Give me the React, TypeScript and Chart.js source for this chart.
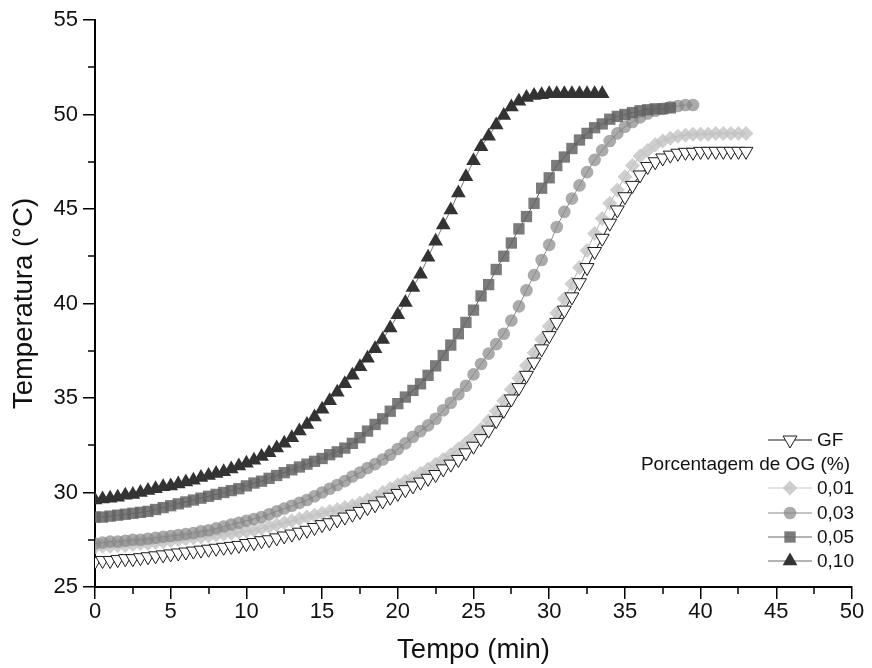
import React, { useEffect, useRef } from 'react';
import { Chart, registerables } from 'chart.js';

Chart.register(...registerables);

// ---------- DATA ----------
const tempo = [
  0, 0.5, 1, 1.5, 2, 2.5, 3, 3.5, 4, 4.5,
  5, 5.5, 6, 6.5, 7, 7.5, 8, 8.5, 9, 9.5,
  10, 10.5, 11, 11.5, 12, 12.5, 13, 13.5, 14, 14.5,
  15, 15.5, 16, 16.5, 17, 17.5, 18, 18.5, 19, 19.5,
  20, 20.5, 21, 21.5, 22, 22.5, 23, 23.5, 24, 24.5,
  25, 25.5, 26, 26.5, 27, 27.5, 28, 28.5, 29, 29.5,
  30, 30.5, 31, 31.5, 32, 32.5, 33, 33.5, 34, 34.5,
  35, 35.5, 36, 36.5, 37, 37.5, 38, 38.5, 39, 39.5,
  40, 40.5, 41, 41.5, 42, 42.5, 43,
];

const gf = [
  26.35, 26.4, 26.4, 26.45, 26.5, 26.5, 26.55, 26.6, 26.65, 26.7,
  26.75, 26.8, 26.85, 26.9, 26.95, 27.0, 27.05, 27.1, 27.15, 27.2,
  27.3, 27.35, 27.45, 27.5, 27.6, 27.7, 27.8, 27.9, 28.0, 28.15,
  28.3, 28.4, 28.55, 28.7, 28.85, 29.0, 29.2, 29.35, 29.55, 29.75,
  29.95, 30.15, 30.35, 30.55, 30.75, 30.95, 31.25, 31.5, 31.75, 32.1,
  32.45, 32.85, 33.3, 33.8, 34.35, 34.95, 35.55, 36.2, 36.9, 37.6,
  38.3, 39.0, 39.65, 40.35, 41.1, 41.9, 42.75, 43.45, 44.25, 44.95,
  45.65, 46.25, 46.8, 47.25, 47.5, 47.7, 47.85, 47.95, 48.0, 48.0,
  48.05, 48.05, 48.05, 48.05, 48.05, 48.05, 48.05,
];

const og001 = [
  27.1, 27.15, 27.15, 27.2, 27.2, 27.25, 27.3, 27.3, 27.35, 27.4,
  27.45, 27.5, 27.55, 27.6, 27.65, 27.7, 27.75, 27.8, 27.85, 27.9,
  27.95, 28.0, 28.1, 28.2, 28.3, 28.4, 28.5, 28.6, 28.7, 28.8,
  28.9, 29.0, 29.1, 29.2, 29.3, 29.45, 29.6, 29.8, 30.0, 30.2,
  30.4, 30.6, 30.8, 31.0, 31.25, 31.5, 31.75, 32.0, 32.3, 32.6,
  32.95, 33.35, 33.8, 34.3, 34.85, 35.45, 36.05, 36.7, 37.4, 38.1,
  38.8, 39.5, 40.25, 41.05, 41.9, 42.8, 43.7, 44.5, 45.3, 46.0,
  46.7, 47.3, 47.8, 48.1, 48.4, 48.6, 48.75, 48.85, 48.9, 48.95,
  48.95, 48.95, 49.0, 49.0, 49.0, 49.0, 49.0,
];

const og003 = [
  27.3, 27.35, 27.4, 27.4, 27.45, 27.5, 27.5, 27.55, 27.6, 27.65,
  27.7, 27.75, 27.8, 27.85, 27.95, 28.0, 28.1, 28.2, 28.3, 28.4,
  28.5, 28.6, 28.7, 28.85, 29.0, 29.15, 29.3, 29.45, 29.6, 29.8,
  30.0, 30.2, 30.4, 30.6, 30.85, 31.05, 31.3, 31.5, 31.75, 32.0,
  32.3, 32.6, 32.95, 33.25, 33.55, 33.9, 34.35, 34.75, 35.2, 35.65,
  36.25, 36.8, 37.35, 37.85, 38.4, 39.1, 39.85, 40.7, 41.5, 42.3,
  43.1, 44.05, 44.85, 45.55, 46.25, 46.95, 47.6, 48.1, 48.6, 49.0,
  49.35, 49.6, 49.85, 50.05, 50.2, 50.3, 50.4, 50.45, 50.5, 50.5,
];

const og005 = [
  28.7, 28.7, 28.75, 28.8, 28.85, 28.9, 28.95, 29.0, 29.1, 29.2,
  29.3, 29.4, 29.5, 29.6, 29.7, 29.8, 29.9, 30.0, 30.1, 30.2,
  30.35, 30.5, 30.6, 30.75, 30.9, 31.05, 31.2, 31.35, 31.5, 31.65,
  31.8, 32.0, 32.15, 32.35, 32.6, 32.9, 33.25, 33.6, 33.9, 34.3,
  34.7, 35.05, 35.4, 35.75, 36.2, 36.7, 37.25, 37.8, 38.4, 39.0,
  39.65, 40.4, 41.0, 41.8, 42.5, 43.2, 43.95, 44.6, 45.3, 46.1,
  46.65, 47.3, 47.75, 48.2, 48.65, 49.0, 49.3, 49.5, 49.75, 49.9,
  50.0, 50.1, 50.2, 50.25, 50.3, 50.3, 50.35,
];

const og010 = [
  29.6, 29.65, 29.7, 29.75, 29.85, 29.9, 30.0, 30.1, 30.2, 30.3,
  30.35, 30.45, 30.55, 30.65, 30.8, 30.9, 31.0, 31.1, 31.25, 31.4,
  31.55, 31.7, 31.9, 32.1, 32.35, 32.6, 32.9, 33.25, 33.6, 34.0,
  34.4, 34.85, 35.3, 35.75, 36.2, 36.65, 37.1, 37.6, 38.1, 38.7,
  39.4, 40.05, 40.85, 41.55, 42.45, 43.3, 44.15, 44.95, 45.85, 46.7,
  47.55, 48.3, 48.85, 49.45, 49.95, 50.4, 50.7, 50.9, 51.0, 51.05,
  51.1, 51.1, 51.1, 51.1, 51.1, 51.1, 51.1, 51.1,
];

const seriesLabels = ['GF', '0,01', '0,03', '0,05', '0,10'];
const legendTitle = 'Porcentagem de OG (%)';
const xTitle = 'Tempo (min)';
const yTitle = 'Temperatura (°C)';
const xRange = [0, 50];
const yRange = [25, 55];
const majorStep = 5;

// ---------- STYLES ----------
type Sty = { shape: string; rot: number; r: number; fill: string; stroke: string; bw: number; line: string; legLine: string };
const styles: Record<string, Sty> = {
  'GF': { shape: 'triangle', rot: 180, r: 8, fill: '#ffffff', stroke: '#1a1a1a', bw: 1, line: '#1a1a1a', legLine: '#1a1a1a' },
  '0,01': { shape: 'rectRot', rot: 0, r: 7.5, fill: 'rgba(195,195,195,0.8)', stroke: 'rgba(195,195,195,0)', bw: 0, line: '#b0b0b0', legLine: '#c8c8c8' },
  '0,03': { shape: 'circle', rot: 0, r: 6.3, fill: 'rgba(135,135,135,0.7)', stroke: 'rgba(135,135,135,0)', bw: 0, line: '#8a8a8a', legLine: '#8a8a8a' },
  '0,05': { shape: 'rect', rot: 0, r: 8, fill: 'rgba(100,100,100,0.85)', stroke: 'rgba(100,100,100,0)', bw: 0, line: '#5a5a5a', legLine: '#6a6a6a' },
  '0,10': { shape: 'triangle', rot: 0, r: 8.5, fill: '#333333', stroke: '#333333', bw: 0, line: '#777777', legLine: '#6a6a6a' },
};

const FONT = "'Liberation Sans', Arial, Helvetica, sans-serif";

function pts(vals: number[]) {
  return vals.map((y, i) => ({ x: tempo[i], y }));
}

function drawMarker(ctx: CanvasRenderingContext2D, s: Sty, x: number, y: number) {
  const r = s.r;
  ctx.save();
  ctx.beginPath();
  if (s.shape === 'circle') {
    ctx.arc(x, y, r, 0, Math.PI * 2);
  } else if (s.shape === 'rect') {
    const h = r * Math.SQRT1_2;
    ctx.rect(x - h, y - h, 2 * h, 2 * h);
  } else if (s.shape === 'rectRot') {
    ctx.moveTo(x - r, y);
    ctx.lineTo(x, y - r);
    ctx.lineTo(x + r, y);
    ctx.lineTo(x, y + r);
    ctx.closePath();
  } else {
    let a = (s.rot * Math.PI) / 180;
    for (let k = 0; k < 3; k++) {
      const px = x + Math.sin(a) * r;
      const py = y - Math.cos(a) * r;
      if (k === 0) ctx.moveTo(px, py); else ctx.lineTo(px, py);
      a += (2 * Math.PI) / 3;
    }
    ctx.closePath();
  }
  ctx.fillStyle = s.fill;
  ctx.fill();
  if (s.bw > 0) {
    ctx.lineWidth = s.bw;
    ctx.strokeStyle = s.stroke;
    ctx.stroke();
  }
  ctx.restore();
}

const legendPlugin = {
  id: 'customLegend',
  afterDraw(chart: any) {
    const ctx: CanvasRenderingContext2D = chart.ctx;
    const ca = chart.chartArea;
    const right = ca.right;
    const bottom = ca.bottom;
    const rows: { label: string; y: number }[] = [
      { label: seriesLabels[0], y: bottom - 147 },
      { label: seriesLabels[1], y: bottom - 99 },
      { label: seriesLabels[2], y: bottom - 74 },
      { label: seriesLabels[3], y: bottom - 50 },
      { label: seriesLabels[4], y: bottom - 26 },
    ];
    ctx.save();
    ctx.font = `19px ${FONT}`;
    ctx.textBaseline = 'middle';
    ctx.fillStyle = '#111';
    rows.forEach((row) => {
      const s = styles[row.label];
      ctx.beginPath();
      ctx.strokeStyle = s.legLine;
      ctx.lineWidth = 1;
      ctx.moveTo(right - 84, row.y);
      ctx.lineTo(right - 40, row.y);
      ctx.stroke();
      drawMarker(ctx, s, right - 62, row.y);
      ctx.fillStyle = '#111';
      ctx.textAlign = 'left';
      ctx.fillText(row.label, right - 35, row.y + 1);
    });
    ctx.textAlign = 'right';
    ctx.fillText(legendTitle, right - 2, bottom - 122);
    ctx.restore();
  },
};

const minorTicksPlugin = {
  id: 'minorTicks',
  afterDraw(chart: any) {
    const ctx: CanvasRenderingContext2D = chart.ctx;
    const xs = chart.scales.x;
    const ys = chart.scales.y;
    const ca = chart.chartArea;
    ctx.save();
    ctx.strokeStyle = '#000';
    ctx.lineWidth = 1.5;
    const xt = xs.ticks.map((t: any) => t.value);
    for (let i = 0; i < xt.length - 1; i++) {
      const px = Math.round(xs.getPixelForValue((xt[i] + xt[i + 1]) / 2));
      ctx.beginPath();
      ctx.moveTo(px, ca.bottom);
      ctx.lineTo(px, ca.bottom + 7);
      ctx.stroke();
    }
    const yt = ys.ticks.map((t: any) => t.value);
    for (let i = 0; i < yt.length - 1; i++) {
      const py = Math.round(ys.getPixelForValue((yt[i] + yt[i + 1]) / 2));
      ctx.beginPath();
      ctx.moveTo(ca.left, py);
      ctx.lineTo(ca.left - 7, py);
      ctx.stroke();
    }
    ctx.restore();
  },
};

function mkDataset(label: string, vals: number[]) {
  const s = styles[label];
  return {
    label,
    data: pts(vals),
    showLine: true,
    borderColor: s.line,
    borderWidth: 1,
    pointStyle: s.shape,
    rotation: s.rot,
    pointRadius: s.r,
    pointBackgroundColor: s.fill,
    pointBorderColor: s.stroke,
    pointBorderWidth: s.bw,
    tension: 0,
  };
}

export default function App() {
  const ref = useRef<HTMLCanvasElement | null>(null);
  useEffect(() => {
    if (!ref.current) return;
    Chart.defaults.font.family = FONT;
    const chart = new Chart(ref.current, {
      type: 'scatter',
      data: {
        datasets: [
          mkDataset('GF', gf),
          mkDataset('0,10', og010),
          mkDataset('0,05', og005),
          mkDataset('0,03', og003),
          mkDataset('0,01', og001),
        ] as any,
      },
      options: {
        animation: false,
        responsive: false,
        devicePixelRatio: 1,
        events: [],
        layout: { padding: { top: 20, right: 20, left: 0, bottom: 0 } },
        plugins: { legend: { display: false }, tooltip: { enabled: false } },
        scales: {
          x: {
            type: 'linear',
            min: xRange[0],
            max: xRange[1],
            afterFit: (s: any) => { s.height = 81; },
            ticks: { stepSize: majorStep, color: '#111', font: { size: 22 }, padding: 0, maxRotation: 0 },
            grid: { drawOnChartArea: false, drawTicks: true, tickLength: 12, color: '#000', lineWidth: 1.5 },
            border: { display: true, color: '#000', width: 2 },
            title: { display: true, text: xTitle, color: '#111', font: { size: 27.5 }, padding: { top: 0, bottom: 1 } },
          },
          y: {
            type: 'linear',
            min: yRange[0],
            max: yRange[1],
            afterFit: (s: any) => { s.width = 95; },
            ticks: { stepSize: majorStep, color: '#111', font: { size: 22 }, padding: 5 },
            grid: { drawOnChartArea: false, drawTicks: true, tickLength: 12, color: '#000', lineWidth: 1.5 },
            border: { display: true, color: '#000', width: 2 },
            title: { display: true, text: yTitle, color: '#111', font: { size: 27.5 }, padding: { top: 8, bottom: 0 } },
          },
        },
      } as any,
      plugins: [minorTicksPlugin, legendPlugin],
    });
    return () => chart.destroy();
  }, []);
  return (
    <div style={{ position: 'absolute', left: 0, top: 0, width: 872, height: 668, background: '#fff' }}>
      <canvas ref={ref} width={872} height={668} />
    </div>
  );
}
